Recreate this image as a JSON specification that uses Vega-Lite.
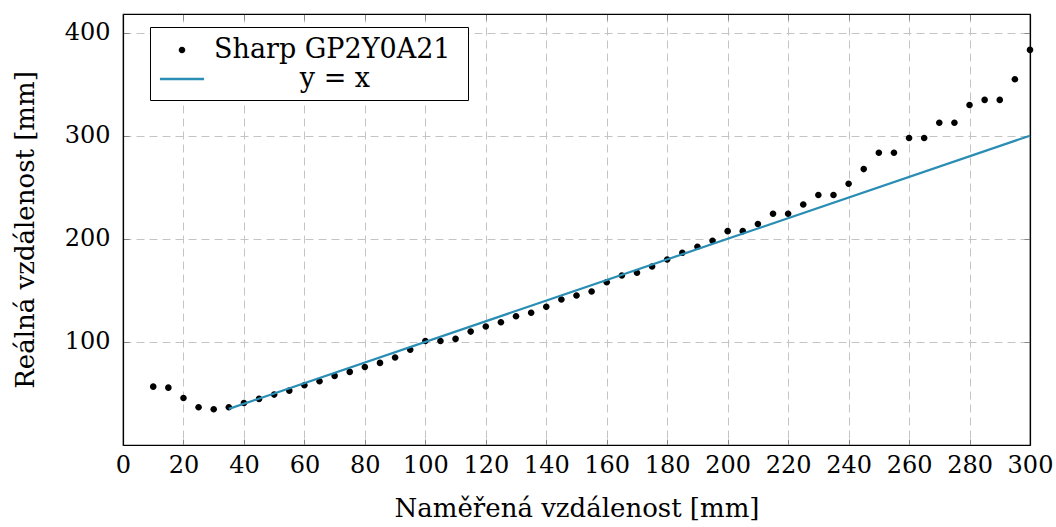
{
  "$schema": "https://vega.github.io/schema/vega-lite/v6.json",
  "width": 907,
  "height": 431,
  "autosize": {"type": "none"},
  "padding": {"left": 123, "top": 14, "right": 26, "bottom": 82},
  "background": "white",
  "config": {
    "font": "DejaVu Serif",
    "view": {"stroke": "black", "strokeWidth": 1.2},
    "axis": {
      "labelFont": "DejaVu Serif",
      "labelFontSize": 24,
      "labelColor": "black",
      "titleFont": "DejaVu Serif",
      "titleFontSize": 26,
      "titleFontWeight": "normal",
      "titleColor": "black",
      "domainColor": "black",
      "domainWidth": 1.2,
      "tickColor": "#888888",
      "tickSize": -6,
      "tickWidth": 1,
      "gridColor": "#c4c4c4",
      "gridDash": [8, 5],
      "gridWidth": 1
    },
    "legend": {
      "title": null,
      "orient": "none",
      "legendX": 27,
      "legendY": 13,
      "fillColor": "white",
      "strokeColor": "black",
      "padding": 8,
      "labelFont": "DejaVu Serif",
      "labelFontSize": 27,
      "labelColor": "black",
      "labelLimit": 0,
      "labelOffset": 17,
      "symbolOffset": 9,
      "symbolSize": 900,
      "symbolStrokeWidth": 0,
      "symbolOpacity": 1,
      "rowPadding": 1
    }
  },
  "data": {
    "values": [
      {"x": 10, "y": 56.6, "series": "Sharp GP2Y0A21"},
      {"x": 15, "y": 55.6, "series": "Sharp GP2Y0A21"},
      {"x": 20, "y": 45.6, "series": "Sharp GP2Y0A21"},
      {"x": 25, "y": 36.6, "series": "Sharp GP2Y0A21"},
      {"x": 30, "y": 34.6, "series": "Sharp GP2Y0A21"},
      {"x": 35, "y": 36.6, "series": "Sharp GP2Y0A21"},
      {"x": 40, "y": 40.8, "series": "Sharp GP2Y0A21"},
      {"x": 45, "y": 44.7, "series": "Sharp GP2Y0A21"},
      {"x": 50, "y": 48.9, "series": "Sharp GP2Y0A21"},
      {"x": 55, "y": 52.7, "series": "Sharp GP2Y0A21"},
      {"x": 60, "y": 58.0, "series": "Sharp GP2Y0A21"},
      {"x": 65, "y": 61.8, "series": "Sharp GP2Y0A21"},
      {"x": 70, "y": 67.0, "series": "Sharp GP2Y0A21"},
      {"x": 75, "y": 70.9, "series": "Sharp GP2Y0A21"},
      {"x": 80, "y": 75.7, "series": "Sharp GP2Y0A21"},
      {"x": 85, "y": 79.6, "series": "Sharp GP2Y0A21"},
      {"x": 90, "y": 84.8, "series": "Sharp GP2Y0A21"},
      {"x": 95, "y": 92.4, "series": "Sharp GP2Y0A21"},
      {"x": 100, "y": 100.8, "series": "Sharp GP2Y0A21"},
      {"x": 105, "y": 100.8, "series": "Sharp GP2Y0A21"},
      {"x": 110, "y": 102.9, "series": "Sharp GP2Y0A21"},
      {"x": 115, "y": 110.0, "series": "Sharp GP2Y0A21"},
      {"x": 120, "y": 114.9, "series": "Sharp GP2Y0A21"},
      {"x": 125, "y": 119.1, "series": "Sharp GP2Y0A21"},
      {"x": 130, "y": 124.9, "series": "Sharp GP2Y0A21"},
      {"x": 135, "y": 128.2, "series": "Sharp GP2Y0A21"},
      {"x": 140, "y": 134.0, "series": "Sharp GP2Y0A21"},
      {"x": 145, "y": 141.1, "series": "Sharp GP2Y0A21"},
      {"x": 150, "y": 145.0, "series": "Sharp GP2Y0A21"},
      {"x": 155, "y": 148.8, "series": "Sharp GP2Y0A21"},
      {"x": 160, "y": 157.9, "series": "Sharp GP2Y0A21"},
      {"x": 165, "y": 164.4, "series": "Sharp GP2Y0A21"},
      {"x": 170, "y": 167.0, "series": "Sharp GP2Y0A21"},
      {"x": 175, "y": 173.1, "series": "Sharp GP2Y0A21"},
      {"x": 180, "y": 179.9, "series": "Sharp GP2Y0A21"},
      {"x": 185, "y": 186.4, "series": "Sharp GP2Y0A21"},
      {"x": 190, "y": 192.2, "series": "Sharp GP2Y0A21"},
      {"x": 195, "y": 198.1, "series": "Sharp GP2Y0A21"},
      {"x": 200, "y": 207.4, "series": "Sharp GP2Y0A21"},
      {"x": 205, "y": 207.4, "series": "Sharp GP2Y0A21"},
      {"x": 210, "y": 214.3, "series": "Sharp GP2Y0A21"},
      {"x": 215, "y": 224.3, "series": "Sharp GP2Y0A21"},
      {"x": 220, "y": 224.3, "series": "Sharp GP2Y0A21"},
      {"x": 225, "y": 233.3, "series": "Sharp GP2Y0A21"},
      {"x": 230, "y": 242.4, "series": "Sharp GP2Y0A21"},
      {"x": 235, "y": 242.4, "series": "Sharp GP2Y0A21"},
      {"x": 240, "y": 253.4, "series": "Sharp GP2Y0A21"},
      {"x": 245, "y": 267.6, "series": "Sharp GP2Y0A21"},
      {"x": 250, "y": 283.5, "series": "Sharp GP2Y0A21"},
      {"x": 255, "y": 283.5, "series": "Sharp GP2Y0A21"},
      {"x": 260, "y": 297.8, "series": "Sharp GP2Y0A21"},
      {"x": 265, "y": 297.8, "series": "Sharp GP2Y0A21"},
      {"x": 270, "y": 312.6, "series": "Sharp GP2Y0A21"},
      {"x": 275, "y": 312.6, "series": "Sharp GP2Y0A21"},
      {"x": 280, "y": 329.8, "series": "Sharp GP2Y0A21"},
      {"x": 285, "y": 334.7, "series": "Sharp GP2Y0A21"},
      {"x": 290, "y": 334.7, "series": "Sharp GP2Y0A21"},
      {"x": 295, "y": 354.7, "series": "Sharp GP2Y0A21"},
      {"x": 300, "y": 383.2, "series": "Sharp GP2Y0A21"},
      {"x": 35, "y": 35, "series": "y = x"},
      {"x": 300, "y": 300, "series": "y = x"}
    ]
  },
  "encoding": {
    "color": {
      "field": "series",
      "type": "nominal",
      "scale": {"domain": ["Sharp GP2Y0A21", "y = x"], "range": ["black", "#2a8db4"]},
      "legend": {
        "labelExpr": "datum.label == 'y = x' ? '\u200b\u00a0\u00a0\u00a0\u00a0\u00a0\u00a0\u00a0\u00a0\u00a0\u00a0y = x' : datum.label + '\u00a0\u200b'"
      }
    }
  },
  "layer": [
    {
      "transform": [{"filter": "datum.series == 'Sharp GP2Y0A21'"}],
      "mark": {"type": "point", "filled": true, "size": 900, "opacity": 1},
      "encoding": {
        "x": {
          "field": "x",
          "type": "quantitative",
          "scale": {"domain": [0, 300], "nice": false, "zero": false},
          "axis": {
            "orient": "bottom",
            "values": [0, 20, 40, 60, 80, 100, 120, 140, 160, 180, 200, 220, 240, 260, 280, 300],
            "grid": true,
            "title": "Naměřená vzdálenost [mm]",
            "labelPadding": 14,
            "titlePadding": 18,
            "labelFlush": false,
            "labelOverlap": false
          }
        },
        "y": {
          "field": "y",
          "type": "quantitative",
          "scale": {"domain": [0, 418], "nice": false, "zero": false},
          "axis": {
            "orient": "left",
            "values": [100, 200, 300, 400],
            "grid": true,
            "title": "Reálná vzdálenost [mm]",
            "labelPadding": 19,
            "titlePadding": 26,
            "labelFlush": false
          }
        },
        "shape": {
          "field": "series",
          "type": "nominal",
          "scale": {
            "domain": ["Sharp GP2Y0A21", "y = x"],
            "range": [
              "M-0.22,0A0.22,0.22,0,1,1,0.22,0A0.22,0.22,0,1,1,-0.22,0Z",
              "M-1.47,-0.08H1.47V0.08H-1.47Z"
            ]
          },
          "legend": {
            "labelExpr": "datum.label == 'y = x' ? '\u200b\u00a0\u00a0\u00a0\u00a0\u00a0\u00a0\u00a0\u00a0\u00a0\u00a0y = x' : datum.label + '\u00a0\u200b'"
          }
        }
      }
    },
    {
      "transform": [{"filter": "datum.series == 'y = x'"}],
      "mark": {"type": "line", "strokeWidth": 2.2},
      "encoding": {
        "x": {
          "field": "x",
          "type": "quantitative",
          "axis": {
            "orient": "top",
            "values": [0, 20, 40, 60, 80, 100, 120, 140, 160, 180, 200, 220, 240, 260, 280, 300],
            "grid": false,
            "labels": false,
            "title": null,
            "domain": true
          }
        },
        "y": {
          "field": "y",
          "type": "quantitative",
          "axis": {
            "orient": "right",
            "values": [100, 200, 300, 400],
            "grid": false,
            "labels": false,
            "title": null,
            "domain": true
          }
        }
      }
    }
  ],
  "resolve": {"axis": {"x": "independent", "y": "independent"}}
}
